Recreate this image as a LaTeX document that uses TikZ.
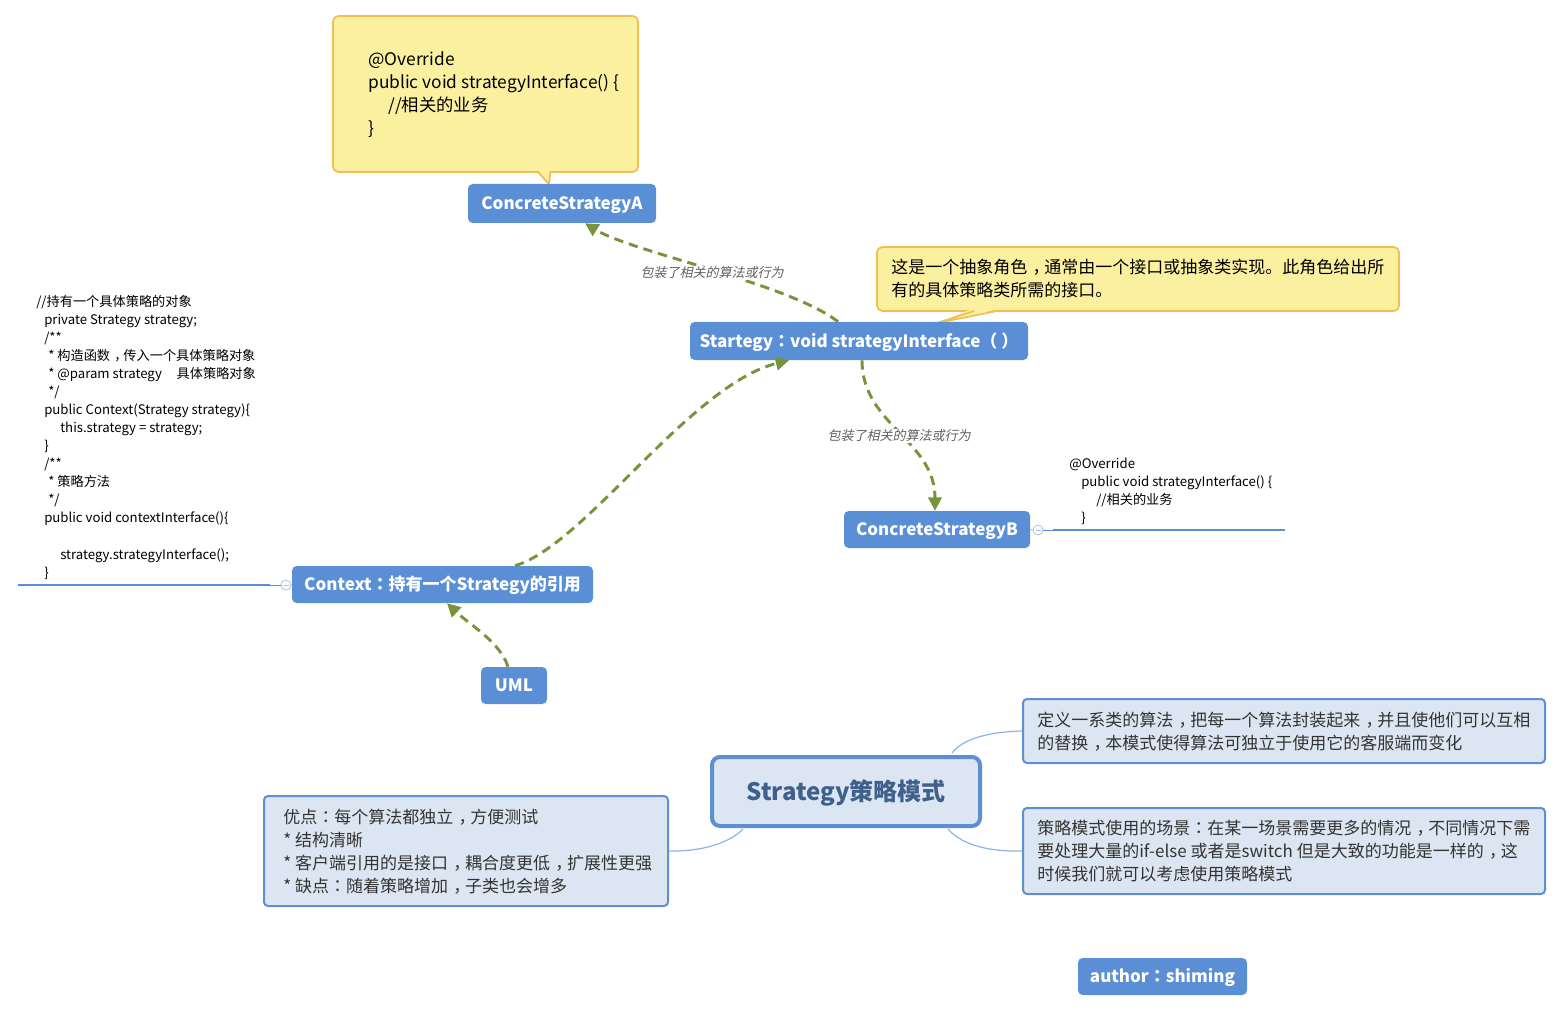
\documentclass[tikz,border=0pt]{standalone}
\usepackage{fontspec}
\setmainfont{Noto Sans CJK SC}
\newfontfamily\slantcjk[FakeSlant=0.22]{Noto Sans CJK SC}
\newfontfamily\tcpunct{Noto Sans CJK TC}
\newcommand{\cc}{\hspace{0.32em}，\hspace{-0.32em}}
\newcommand{\cn}{{\tcpunct ：}}
\usetikzlibrary{arrows.meta,calc}
\definecolor{nodeblue}{HTML}{5A8FD5}
\definecolor{yelfill}{HTML}{FBF0A0}
\definecolor{yeldraw}{HTML}{F2BE52}
\definecolor{boxfill}{HTML}{DCE6F2}
\definecolor{boxdraw}{HTML}{5E8FD3}
\definecolor{arrgreen}{HTML}{77933C}
\definecolor{linkblue}{HTML}{8DB3E2}
\definecolor{foldblue}{HTML}{A9C1E6}
\definecolor{titleblue}{HTML}{3F5F8C}
\definecolor{labelgray}{HTML}{606060}
\definecolor{txtdark}{HTML}{333333}
\tikzset{
 bluebox/.style={rectangle, rounded corners=3.5pt, fill=nodeblue, text=white, inner sep=0pt, text height=9.4pt, text depth=0pt, font=\bfseries\fontsize{12.75}{15}\selectfont},
 lightbox/.style={rectangle, rounded corners=3pt, fill=boxfill, draw=boxdraw, line width=1.5pt, inner sep=0pt},
 yelbox/.style={rectangle, rounded corners=4pt, fill=yelfill, draw=yeldraw, line width=1.3pt, inner sep=0pt},
 bigtxt/.style={anchor=base west, inner sep=0pt, font=\fontsize{12.75}{15}\selectfont, text=txtdark},
 bigcode/.style={anchor=base west, inner sep=0pt, font=\fontsize{13}{15}\selectfont, text=black},
 codetxt/.style={anchor=base west, inner sep=0pt, font=\fontsize{9.9}{11}\selectfont, text=black},
 relarrow/.style={draw=arrgreen, line width=2.2pt, dash pattern=on 7pt off 4.5pt, -{Triangle[length=10pt,width=10pt]}},
 rellabel/.style={fill=white, inner sep=1pt, font=\slantcjk\fontsize{9.75}{11}\selectfont, text=labelgray},
 linkline/.style={draw=linkblue, line width=0.9pt},
 underline/.style={draw=nodeblue, line width=1.9pt},
 foldmark/.style={circle, draw=foldblue, fill=white, line width=0.6pt, minimum size=7.5pt, inner sep=0pt},
}
\begin{document}
\begin{tikzpicture}[x=0.75pt,y=-0.75pt]
\useasboundingbox (0,0) rectangle (1562,1012);

% ---- yellow callout A
\node[yelbox, minimum width=228.75pt, minimum height=117pt] (yA) at (485.5,94) {};
\fill[yelfill] (537,169) -- (549,184) -- (550.5,169) -- cycle;
\draw[yeldraw, line width=1.3pt, line join=round] (537.5,171.5) -- (549,184) -- (550.5,171.5);
\node[bigcode] (yA1) at (368,66) {@Override};
\node[bigcode] (yA2) at (368,89) {public void strategyInterface() \{};
\node[bigcode] (yA3) at (388,112) {//相关的业务};
\node[bigcode] (yA4) at (368,135) {\}};

% ---- yellow callout Strategy
\node[yelbox, minimum width=391.5pt, minimum height=48pt] (yS) at (1138,279) {};
\fill[yelfill] (972,309) -- (937,323) -- (999,309) -- cycle;
\draw[yeldraw, line width=1.3pt, line join=round] (974,311) -- (937,323) -- (997,311);
\node[bigtxt, text=black] (yS1) at (891,274) {这是一个抽象角色\cc 通常由一个接口或抽象类实现。此角色给出所};
\node[bigtxt, text=black] (yS2) at (891,297) {有的具体策略类所需的接口。};

% ---- blue nodes
\node[bluebox, minimum width=141pt, minimum height=29.25pt] (cA) at (562,203.5) {ConcreteStrategyA};
\node[bluebox, minimum width=253.5pt, minimum height=28.5pt] (st) at (859,341) {Startegy\cn void strategyInterface（ ）};
\node[bluebox, minimum width=139.5pt, minimum height=27.75pt] (cB) at (937,529.5) {ConcreteStrategyB};
\node[bluebox, minimum width=225.75pt, minimum height=27.75pt] (ctx) at (442.5,584.5) {Context\cn 持有一个Strategy的引用};
\node[bluebox, minimum width=49.5pt, minimum height=27.75pt] (uml) at (514,685.5) {UML};
\node[bluebox, minimum width=126.75pt, minimum height=27.75pt] (auth) at (1162.5,976.5) {author\cn shiming};

% ---- relation arrows
\draw[relarrow] ($(st.north)+(-21,0)$) .. controls (790,284) and (632,252) .. ($(cA.south)+(23,0)$);
\draw[relarrow] ($(st.south)+(3,0)$) .. controls (862,425) and (935,440) .. ($(cB.north)+(-2,0)$);
\draw[relarrow] ($(ctx.north)+(72.5,0)$) .. controls (585,545) and (690,385) .. ($(st.south)+(-70,0)$);
\draw[relarrow] ($(uml.north)+(-6,0)$) .. controls (500,642) and (470,625) .. ($(ctx.south)+(4.5,0)$);
\node[rellabel] (lab1) at (712,273) {包装了相关的算法或行为};
\node[rellabel] (lab2) at (899,436) {包装了相关的算法或行为};

% ---- left code (Context)
\node[codetxt] (c1) at (36,306) {//持有一个具体策略的对象};
\node[codetxt] (c2) at (44,324.1) {private Strategy strategy;};
\node[codetxt] (c3) at (44,342.1) {/**};
\node[codetxt] (c4) at (48,360.2) {* 构造函数\cc 传入一个具体策略对象};
\node[codetxt] (c5) at (48,378.3) {* @param strategy\hspace{11pt}具体策略对象};
\node[codetxt] (c6) at (48,396.4) {*/};
\node[codetxt] (c7) at (44,414.4) {public Context(Strategy strategy)\{};
\node[codetxt] (c8) at (60,432.5) {this.strategy = strategy;};
\node[codetxt] (c9) at (44,450.6) {\}};
\node[codetxt] (c10) at (44,468.6) {/**};
\node[codetxt] (c11) at (48,486.7) {* 策略方法};
\node[codetxt] (c12) at (48,504.8) {*/};
\node[codetxt] (c13) at (44,522.9) {public void contextInterface()\{};
\node[codetxt] (c14) at (60,559) {strategy.strategyInterface();};
\node[codetxt] (c15) at (44,577.1) {\}};
\node[foldmark] (f1) at (286,585) {};
\draw[foldblue, line width=0.6pt] ($(f1.center)+(-2.5,0)$) -- ($(f1.center)+(2.5,0)$);
\coordinate (u1a) at (18,585);
\coordinate (u1b) at (270,585);
\draw[underline] (u1a) -- (u1b);
\draw[nodeblue, line width=0.7pt] (u1b) -- (f1.west);
\draw[linkline, line width=0.6pt] (f1.east) -- (ctx.west);

% ---- right code (B)
\node[codetxt] (b1) at (1069,468) {@Override};
\node[codetxt] (b2) at (1081,486) {public void strategyInterface() \{};
\node[codetxt] (b3) at (1096,504) {//相关的业务};
\node[codetxt] (b4) at (1081,522) {\}};
\node[foldmark] (f2) at (1038,530) {};
\draw[foldblue, line width=0.6pt] ($(f2.center)+(-2.5,0)$) -- ($(f2.center)+(2.5,0)$);
\coordinate (u2a) at (1053,530);
\coordinate (u2b) at (1285,530);
\draw[nodeblue, line width=0.7pt] (f2.east) -- (u2a);
\draw[underline] (u2a) -- (u2b);
\draw[linkline, line width=0.6pt] (cB.east) -- (f2.west);

% ---- central topic and boxes
\node[lightbox, minimum width=391.5pt, minimum height=48pt] (def) at (1284,731) {};
\node[lightbox, minimum width=391.5pt, minimum height=64.5pt] (scene) at (1284,851) {};
\node[lightbox, minimum width=303pt, minimum height=82.5pt] (pros) at (466,851) {};
\node[lightbox, line width=3pt, rounded corners=6pt, minimum width=201pt, minimum height=51.75pt, text height=13.2pt, text depth=0pt, text=titleblue, font=\bfseries\fontsize{18}{21}\selectfont] (center) at (846,791.5) {Strategy策略模式};

\draw[linkline] ($(center.north east)+(-30,-2)$) .. controls (962,740) and (985,732) .. (def.west);
\draw[linkline] ($(center.south east)+(-34,1)$) .. controls (960,843) and (985,852) .. (scene.west);
\draw[linkline] ($(center.south west)+(33,1)$) .. controls (730,843) and (700,852) .. (pros.east);

\node[bigtxt] (d1) at (1037,726) {定义一系类的算法\cc 把每一个算法封装起来\cc 并且使他们可以互相};
\node[bigtxt] (d2) at (1037,749) {的替换\cc 本模式使得算法可独立于使用它的客服端而变化};
\node[bigtxt] (s1) at (1037,834) {策略模式使用的场景\cn 在某一场景需要更多的情况\cc 不同情况下需};
\node[bigtxt] (s2) at (1037,857) {要处理大量的if-else 或者是switch 但是大致的功能是一样的\cc 这};
\node[bigtxt] (s3) at (1037,880) {时候我们就可以考虑使用策略模式};
\node[bigtxt] (p1) at (283,823) {优点\cn 每个算法都独立\cc 方便测试};
\node[bigtxt] (p2) at (283,846) {* 结构清晰};
\node[bigtxt] (p3) at (283,869) {* 客户端引用的是接口\cc 耦合度更低\cc 扩展性更强};
\node[bigtxt] (p4) at (283,892) {* 缺点\cn 随着策略增加\cc 子类也会增多};
\end{tikzpicture}
\end{document}
